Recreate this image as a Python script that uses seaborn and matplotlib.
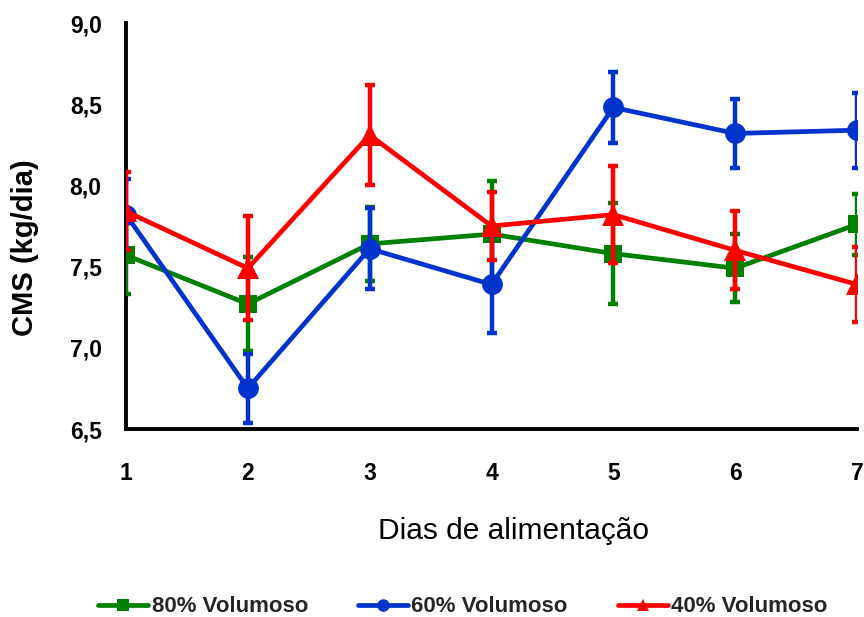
import matplotlib
matplotlib.use("Agg")
import matplotlib.pyplot as plt
from matplotlib.lines import Line2D
from matplotlib.ticker import FuncFormatter
import seaborn as sns
import pandas as pd

# Dry matter intake (kg/day) per feeding day, mean and standard error
dias = [1, 2, 3, 4, 5, 6, 7]
grupos = ["80% Volumoso", "60% Volumoso", "40% Volumoso"]
cms_80 = [7.57, 7.27, 7.64, 7.70, 7.58, 7.49, 7.76]
ep_80 = [0.24, 0.29, 0.23, 0.33, 0.31, 0.21, 0.19]
cms_60 = [7.82, 6.75, 7.61, 7.39, 8.48, 8.32, 8.34]
ep_60 = [0.22, 0.21, 0.25, 0.30, 0.22, 0.21, 0.23]
cms_40 = [7.84, 7.49, 8.31, 7.75, 7.82, 7.60, 7.39]
ep_40 = [0.24, 0.32, 0.31, 0.21, 0.30, 0.24, 0.23]

cores = ["#008000", "#0033CC", "#FF0000"]
marcadores = ["s", "o", "^"]
tam_marcador = [13.5, 15, 15.5]

sns.set_theme(style="white")
plt.rcParams["font.family"] = ["Liberation Sans", "DejaVu Sans"]

df = pd.DataFrame({
    "dia": dias * 3,
    "cms": cms_80 + cms_60 + cms_40,
    "ep": ep_80 + ep_60 + ep_40,
    "grupo": [g for g in grupos for _ in dias],
})

fig = plt.figure(figsize=(8.64, 6.17), dpi=100)
ax = fig.add_axes([126 / 864, 1 - 429 / 617, 731 / 864, 406 / 617])

for i, g in enumerate(grupos):
    sub = df[df["grupo"] == g]
    ax.errorbar(sub["dia"], sub["cms"], yerr=sub["ep"], fmt="none",
                ecolor=cores[i], elinewidth=3.2, capsize=3.8, capthick=3.2,
                zorder=2 + i)
    sns.lineplot(data=sub, x="dia", y="cms", color=cores[i], marker=marcadores[i],
                 markersize=tam_marcador[i], markeredgewidth=0, linewidth=3.4,
                 ax=ax, zorder=2.5 + i, legend=False, errorbar=None)

ax.set_xlim(1, 7)
ax.set_ylim(6.5, 9.0)
ax.set_xticks(dias)
ax.set_yticks([6.5, 7.0, 7.5, 8.0, 8.5, 9.0])
ax.yaxis.set_major_formatter(FuncFormatter(lambda v, p: f"{v:.1f}".replace(".", ",")))

sns.despine(ax=ax)
for s in ("left", "bottom"):
    ax.spines[s].set_linewidth(2.8)
    ax.spines[s].set_color("black")
    ax.spines[s].set_zorder(1)
ax.tick_params(axis="both", direction="out", length=6.5, width=2.4, color="black",
               labelsize=16.5, labelcolor="black")
ax.tick_params(axis="x", pad=17)
ax.tick_params(axis="y", pad=11)
for lab in ax.get_xticklabels() + ax.get_yticklabels():
    lab.set_fontweight("bold")
ax.grid(False)

ax.set_xlabel("Dias de alimentação", fontsize=21.5, color="black")
ax.xaxis.label.set_va("baseline")
ax.xaxis.set_label_coords((513 - 126) / 731, (429 - 539) / 406)
ax.set_ylabel("CMS (kg/dia)", fontsize=21, fontweight="bold", color="black")
ax.yaxis.label.set_va("center")
ax.yaxis.set_label_coords((25 - 126) / 731, (429 - 248) / 406)

alcas = [Line2D([0], [0], color=cores[i], marker=marcadores[i], markersize=9,
                markeredgewidth=0, linewidth=3.4) for i in range(3)]
fig.legend(alcas, grupos, loc="center", bbox_to_anchor=(463 / 864, 1 - 607 / 617),
           ncol=3, frameon=False, handlelength=2.25, handletextpad=0.15,
           columnspacing=2.25, prop={"weight": "bold", "size": 16})

fig.savefig("out.png", dpi=100)
